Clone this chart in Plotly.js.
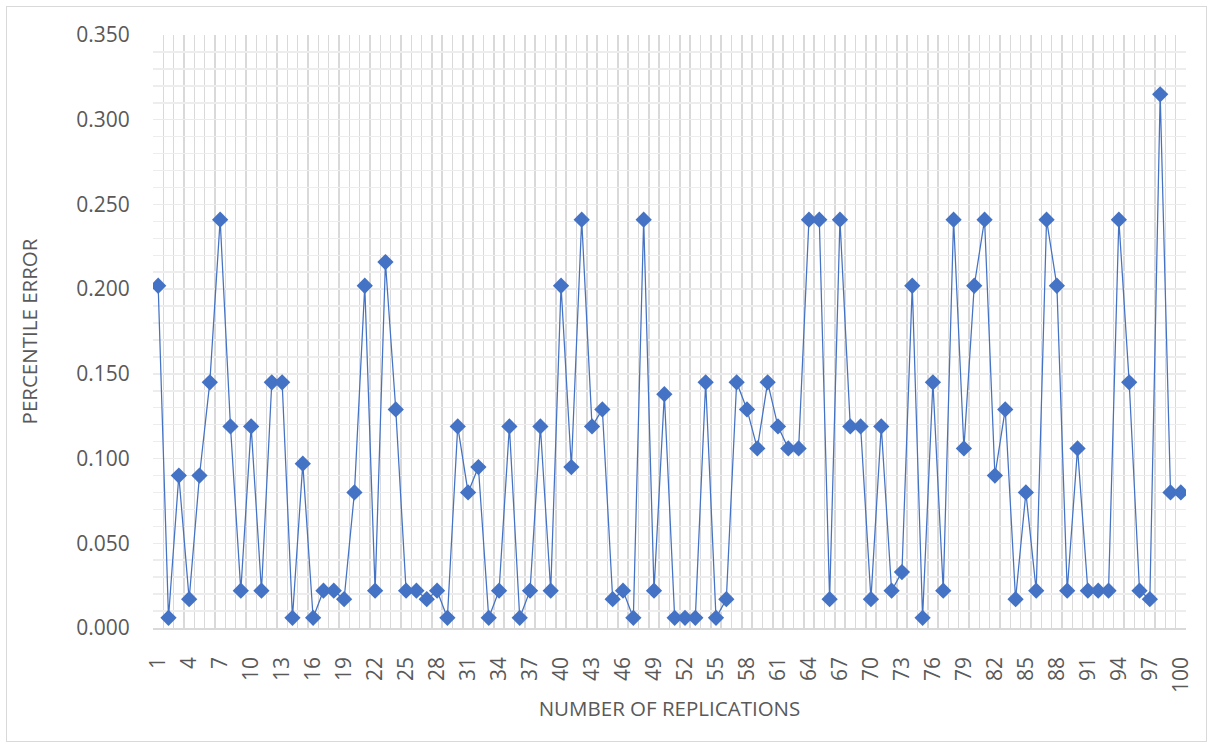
<!DOCTYPE html>
<html>
<head>
<meta charset="utf-8">
<script src="https://cdn.plot.ly/plotly-3.0.1.min.js"></script>
<style>
  html, body { margin: 0; padding: 0; background: #ffffff; }
  #wrap { position: relative; width: 1213px; height: 748px; }
  #chart { position: absolute; left: 0; top: 0; width: 1213px; height: 748px; }
  #frame { position: absolute; left: 6px; top: 6px; width: 1199px; height: 734px; border: 1px solid #d9d9d9; pointer-events: none; }
</style>
</head>
<body>
<div id="wrap">
  <div id="chart"></div>
  <div id="frame"></div>
</div>
<script>
// Replication numbers (x categories)
const replications = [
  1, 2, 3, 4, 5, 6, 7, 8, 9, 10,
  11, 12, 13, 14, 15, 16, 17, 18, 19, 20,
  21, 22, 23, 24, 25, 26, 27, 28, 29, 30,
  31, 32, 33, 34, 35, 36, 37, 38, 39, 40,
  41, 42, 43, 44, 45, 46, 47, 48, 49, 50,
  51, 52, 53, 54, 55, 56, 57, 58, 59, 60,
  61, 62, 63, 64, 65, 66, 67, 68, 69, 70,
  71, 72, 73, 74, 75, 76, 77, 78, 79, 80,
  81, 82, 83, 84, 85, 86, 87, 88, 89, 90,
  91, 92, 93, 94, 95, 96, 97, 98, 99, 100
];

// Percentile error per replication
const percentileError = [
  0.202, 0.006, 0.090, 0.017, 0.090, 0.145, 0.241, 0.119, 0.022, 0.119,
  0.022, 0.145, 0.145, 0.006, 0.097, 0.006, 0.022, 0.022, 0.017, 0.080,
  0.202, 0.022, 0.216, 0.129, 0.022, 0.022, 0.017, 0.022, 0.006, 0.119,
  0.080, 0.095, 0.006, 0.022, 0.119, 0.006, 0.022, 0.119, 0.022, 0.202,
  0.095, 0.241, 0.119, 0.129, 0.017, 0.022, 0.006, 0.241, 0.022, 0.138,
  0.006, 0.006, 0.006, 0.145, 0.006, 0.017, 0.145, 0.129, 0.106, 0.145,
  0.119, 0.106, 0.106, 0.241, 0.241, 0.017, 0.241, 0.119, 0.119, 0.017,
  0.119, 0.022, 0.033, 0.202, 0.006, 0.145, 0.022, 0.241, 0.106, 0.202,
  0.241, 0.090, 0.129, 0.017, 0.080, 0.022, 0.241, 0.202, 0.022, 0.106,
  0.022, 0.022, 0.022, 0.241, 0.145, 0.022, 0.017, 0.315, 0.080, 0.080
];

// Tick labels shown on the x axis
const xTickLabels = [1, 4, 7, 10, 13, 16, 19, 22, 25, 28, 31, 34, 37, 40, 43, 46, 49,
  52, 55, 58, 61, 64, 67, 70, 73, 76, 79, 82, 85, 88, 91, 94, 97, 100];

const yTickValues = [0, 0.05, 0.10, 0.15, 0.20, 0.25, 0.30, 0.35];

const FONT = '"Open Sans", "Liberation Sans", sans-serif';
const TXT = '#595959';
const BLUE = '#4472C4';

const trace = {
  type: 'scatter',
  mode: 'lines+markers',
  x: replications,
  y: percentileError,
  line: { color: BLUE, width: 1.25 },
  marker: { symbol: 'diamond', size: 12.5, color: BLUE, line: { width: 0 } },
  hoverinfo: 'x+y',
  showlegend: false
};

const layout = {
  width: 1213,
  height: 748,
  margin: { l: 153, r: 27, t: 35, b: 120, pad: 0 },
  paper_bgcolor: 'rgba(0,0,0,0)',
  plot_bgcolor: '#ffffff',
  font: { family: FONT, color: TXT, size: 20 },
  xaxis: {
    type: 'linear',
    range: [0.5, 100.5],
    tickmode: 'array',
    tickvals: xTickLabels,
    ticktext: xTickLabels.map(String),
    tickangle: -90,
    tickfont: { family: FONT, size: 21, color: TXT },
    ticks: 'outside',
    ticklen: 19,
    tickcolor: 'rgba(0,0,0,0)',
    showgrid: false,
    zeroline: false,
    showline: true,
    linecolor: '#d9d9d9',
    linewidth: 1.5,
    minor: { tick0: 0.5, dtick: 1, showgrid: true, gridcolor: '#d9d9d9', gridwidth: 1.5, ticks: '' },
    title: { text: 'NUMBER OF REPLICATIONS', font: { family: FONT, size: 20.5, color: TXT }, standoff: 9 },
    automargin: true,
    fixedrange: true
  },
  yaxis: {
    range: [0, 0.35],
    tickmode: 'array',
    tickvals: yTickValues,
    tickformat: '.3f',
    tickfont: { family: FONT, size: 21, color: TXT },
    ticks: 'outside',
    ticklen: 18,
    tickcolor: 'rgba(0,0,0,0)',
    showgrid: true,
    gridcolor: '#ebebeb',
    gridwidth: 1.5,
    zeroline: false,
    showline: false,
    minor: { dtick: 0.01, showgrid: true, gridcolor: '#ededed', gridwidth: 1.5, ticks: '' },
    title: { text: 'PERCENTILE ERROR', font: { family: FONT, size: 20.5, color: TXT }, standoff: 33 },
    automargin: true,
    fixedrange: true
  }
};

Plotly.newPlot('chart', [trace], layout, { displayModeBar: false, staticPlot: true });
</script>
</body>
</html>
